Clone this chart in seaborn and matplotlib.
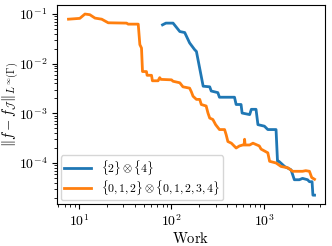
import numpy as np
import pandas as pd
import matplotlib
matplotlib.use("Agg")
import matplotlib.pyplot as plt
import seaborn as sns

# Series: {2} x {4}
work_a = [80, 87, 104, 123, 139, 157, 178, 186, 220, 259, 269, 317, 330, 400, 480, 500, 565, 580,
          700, 730, 820, 860, 1010, 1100, 1350, 1400, 1450, 1670, 1960, 2130, 2410, 2610, 2960, 3100,
          3310, 3380, 3520]
err_a = [0.060, 0.065, 0.065, 0.044, 0.042, 0.026, 0.019, 0.0175, 0.0035, 0.0034, 0.0028, 0.0026,
         0.0021, 0.0021, 0.0021, 0.0015, 0.0015, 0.00101, 0.00094, 0.0012, 0.0012, 0.00059, 0.00055,
         0.00047, 0.00047, 0.000108, 0.000108, 0.000085, 0.000073, 0.000046, 0.000046, 0.000049,
         0.000046, 0.000042, 0.000042, 0.0000225, 0.0000225]

# Series: {0,1,2} x {0,1,2,3,4}
work_b = [7.7, 10.2, 11.6, 13.1, 14.9, 17.6, 20.7, 32.7, 34, 43.7, 45.5, 47.4, 48.6, 53.6, 54.5,
          60.8, 62.2, 71.6, 74.6, 77, 100, 104, 123, 133, 157, 164, 171, 186, 202, 210, 237, 248,
          259, 280, 300, 330, 375, 390, 407, 444, 500, 543, 590, 610, 617, 625, 700, 760, 890, 930,
          1100, 1150, 1350, 1530, 1810, 2040, 2610, 2830, 3100, 3280, 3520]
err_b = [0.078, 0.081, 0.099, 0.096, 0.082, 0.078, 0.066, 0.065, 0.062, 0.062, 0.024, 0.0205,
         0.0069, 0.0069, 0.0058, 0.0058, 0.0045, 0.0045, 0.0052, 0.0048, 0.0047, 0.0044, 0.0041,
         0.0034, 0.0032, 0.0027, 0.0022, 0.0019, 0.0019, 0.0015, 0.0014, 0.00101, 0.00080, 0.00075,
         0.00059, 0.00047, 0.00047, 0.00037, 0.00027, 0.00025, 0.00020, 0.00022, 0.00023, 0.00023,
         0.00030, 0.00023, 0.00023, 0.00025, 0.00022, 0.00019, 0.00016, 0.000108, 0.00010,
         0.000085, 0.00008, 0.000068, 0.000068, 0.000070, 0.000068, 0.000051, 0.000047]

labels = [r'$\{2\}\otimes\{4\}$', r'$\{0{,}\,1{,}\,2\}\otimes\{0{,}\,1{,}\,2{,}\,3{,}\,4\}$']

df = pd.concat([
    pd.DataFrame({"work": work_a, "err": err_a, "series": labels[0]}),
    pd.DataFrame({"work": work_b, "err": err_b, "series": labels[1]}),
])

plt.rcParams['mathtext.fontset'] = 'cm'
plt.rcParams['font.family'] = ['DejaVu Serif']

fig = plt.figure(figsize=(3.32, 2.46), dpi=100)
ax = fig.add_axes([0.172, 0.171, 0.807, 0.809])
sns.lineplot(data=df, x="work", y="err", hue="series", sort=False, estimator=None,
             units="series", palette=["#1f77b4", "#ff7f0e"], linewidth=2, ax=ax,
             hue_order=labels)
ax.set_xscale('log')
ax.set_yscale('log')
ax.set_xlim(5.8, 4570)
ax.set_ylim(1.5e-5, 0.151)
ax.set_xlabel(r'$\mathrm{Work}$', fontsize=10.5, labelpad=1)
ax.set_ylabel(r'$\|f-f_{\mathcal{J}}\|_{L^{\infty}(\Gamma)}$', fontsize=10.5)
ax.yaxis.set_label_coords(-0.135, 0.5)
ax.tick_params(labelsize=10)
ax.set_xticks([10, 100, 1000])
ax.set_xticklabels([r'$10^{1}$', r'$10^{2}$', r'$10^{3}$'])
ax.set_yticks([1e-4, 1e-3, 1e-2, 1e-1])
ax.set_yticklabels([r'$10^{-4}$', r'$10^{-3}$', r'$10^{-2}$', r'$10^{-1}$'])
ax.legend(loc='lower left', fontsize=8.5, title=None, handlelength=2.3,
          labelspacing=0.12, borderpad=0.3, borderaxespad=0.3)
fig.savefig("out.png", dpi=100)
